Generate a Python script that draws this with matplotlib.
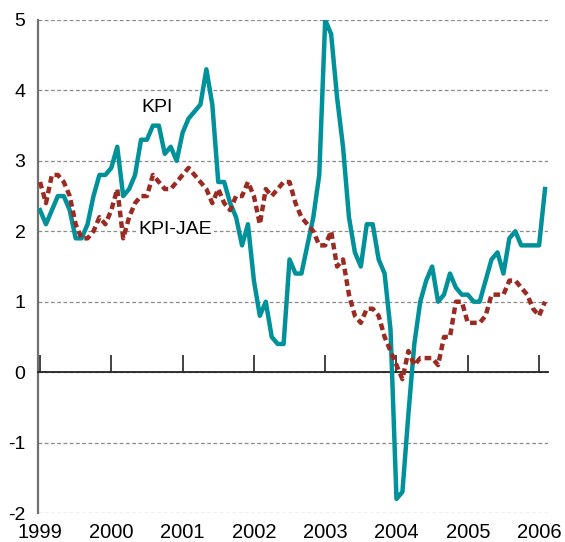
import matplotlib
matplotlib.use("Agg")
import matplotlib.pyplot as plt
import numpy as np

plt.rcParams['font.family'] = ['Liberation Sans', 'DejaVu Sans']
plt.rcParams['axes.unicode_minus'] = False

# Monthly 12-month change, Jan 1999 - Feb 2006
start_year = 1999
kpi = [
    2.3, 2.1, 2.3, 2.5, 2.5, 2.3, 1.9, 1.9, 2.1, 2.5, 2.8, 2.8,   # 1999
    2.9, 3.2, 2.5, 2.6, 2.8, 3.3, 3.3, 3.5, 3.5, 3.1, 3.2, 3.0,   # 2000
    3.4, 3.6, 3.7, 3.8, 4.3, 3.8, 2.7, 2.7, 2.4, 2.2, 1.8, 2.1,   # 2001
    1.3, 0.8, 1.0, 0.5, 0.4, 0.4, 1.6, 1.4, 1.4, 1.8, 2.2, 2.8,   # 2002
    5.0, 4.8, 3.9, 3.2, 2.2, 1.7, 1.5, 2.1, 2.1, 1.6, 1.4, 0.6,   # 2003
    -1.8, -1.7, -0.6, 0.4, 1.0, 1.3, 1.5, 1.0, 1.1, 1.4, 1.2, 1.1,  # 2004
    1.1, 1.0, 1.0, 1.3, 1.6, 1.7, 1.4, 1.9, 2.0, 1.8, 1.8, 1.8,   # 2005
    1.8, 2.6,                                                     # 2006
]
kpi_jae = [
    2.7, 2.4, 2.8, 2.8, 2.7, 2.5, 2.1, 1.9, 1.9, 2.0, 2.2, 2.1,   # 1999
    2.3, 2.6, 1.9, 2.2, 2.4, 2.5, 2.5, 2.8, 2.7, 2.6, 2.6, 2.7,   # 2000
    2.8, 2.9, 2.8, 2.7, 2.6, 2.4, 2.6, 2.4, 2.3, 2.5, 2.5, 2.7,   # 2001
    2.5, 2.1, 2.6, 2.5, 2.6, 2.7, 2.7, 2.4, 2.2, 2.1, 2.0, 1.8,   # 2002
    1.8, 2.0, 1.5, 1.6, 1.1, 0.8, 0.7, 0.9, 0.9, 0.8, 0.5, 0.3,   # 2003
    0.1, -0.1, 0.3, 0.1, 0.2, 0.2, 0.2, 0.1, 0.5, 0.5, 1.0, 1.0,  # 2004
    0.7, 0.7, 0.7, 0.8, 1.1, 1.1, 1.1, 1.3, 1.3, 1.2, 1.1, 0.9,   # 2005
    0.8, 1.0,                                                     # 2006
]
years = [1999, 2000, 2001, 2002, 2003, 2004, 2005, 2006]
yticks = [-2, -1, 0, 1, 2, 3, 4, 5]
series_labels = ["KPI", "KPI-JAE"]

x = start_year + np.arange(len(kpi)) / 12.0

fig = plt.figure(figsize=(5.65, 5.42), dpi=100)
ax = fig.add_axes([0.0673, 0.0535, 0.9027, 0.9096])

teal = '#00919A'
red = '#9A2B22'

ax.plot(x, kpi, color=teal, lw=3.2, solid_joinstyle='round', zorder=3)
ax.plot(x, kpi_jae, color=red, lw=3.2, dashes=(1.5, 0.9), zorder=4)

ax.set_xlim(1998.972, 2006.126)
ax.set_ylim(-2, 5)

for s in ['top', 'right']:
    ax.spines[s].set_visible(False)
ax.spines['bottom'].set_position(('data', 0))
ax.spines['bottom'].set_color('#222222')
ax.spines['bottom'].set_linewidth(1.3)
ax.spines['left'].set_color('#707070')
ax.spines['left'].set_linewidth(1.6)

ax.set_xticks(years)
ax.tick_params(axis='x', direction='in', length=12, width=1.2, color='#222222',
               labelbottom=False)
ax.set_yticks(yticks)
ax.set_yticklabels([str(v) for v in yticks])
ax.tick_params(axis='y', length=0, pad=9, labelsize=14)

ax.set_axisbelow(True)
ax.yaxis.grid(True, linestyle=(0, (3, 2)), color='#8a8a8a', lw=0.9)

sec = ax.secondary_xaxis(0.0)
sec.set_xticks(years)
sec.set_xticklabels([str(y) for y in years])
sec.tick_params(axis='x', length=0, pad=7, labelsize=14.5)
sec.spines['bottom'].set_visible(False)

ax.text(2000.42, 3.76, series_labels[0], fontsize=14, ha='left', va='center', zorder=5)
ax.text(2000.38, 2.03, series_labels[1], fontsize=14, ha='left', va='center', zorder=5,
        bbox=dict(facecolor='white', edgecolor='none', pad=1.5))

fig.savefig('out.png', dpi=100)
